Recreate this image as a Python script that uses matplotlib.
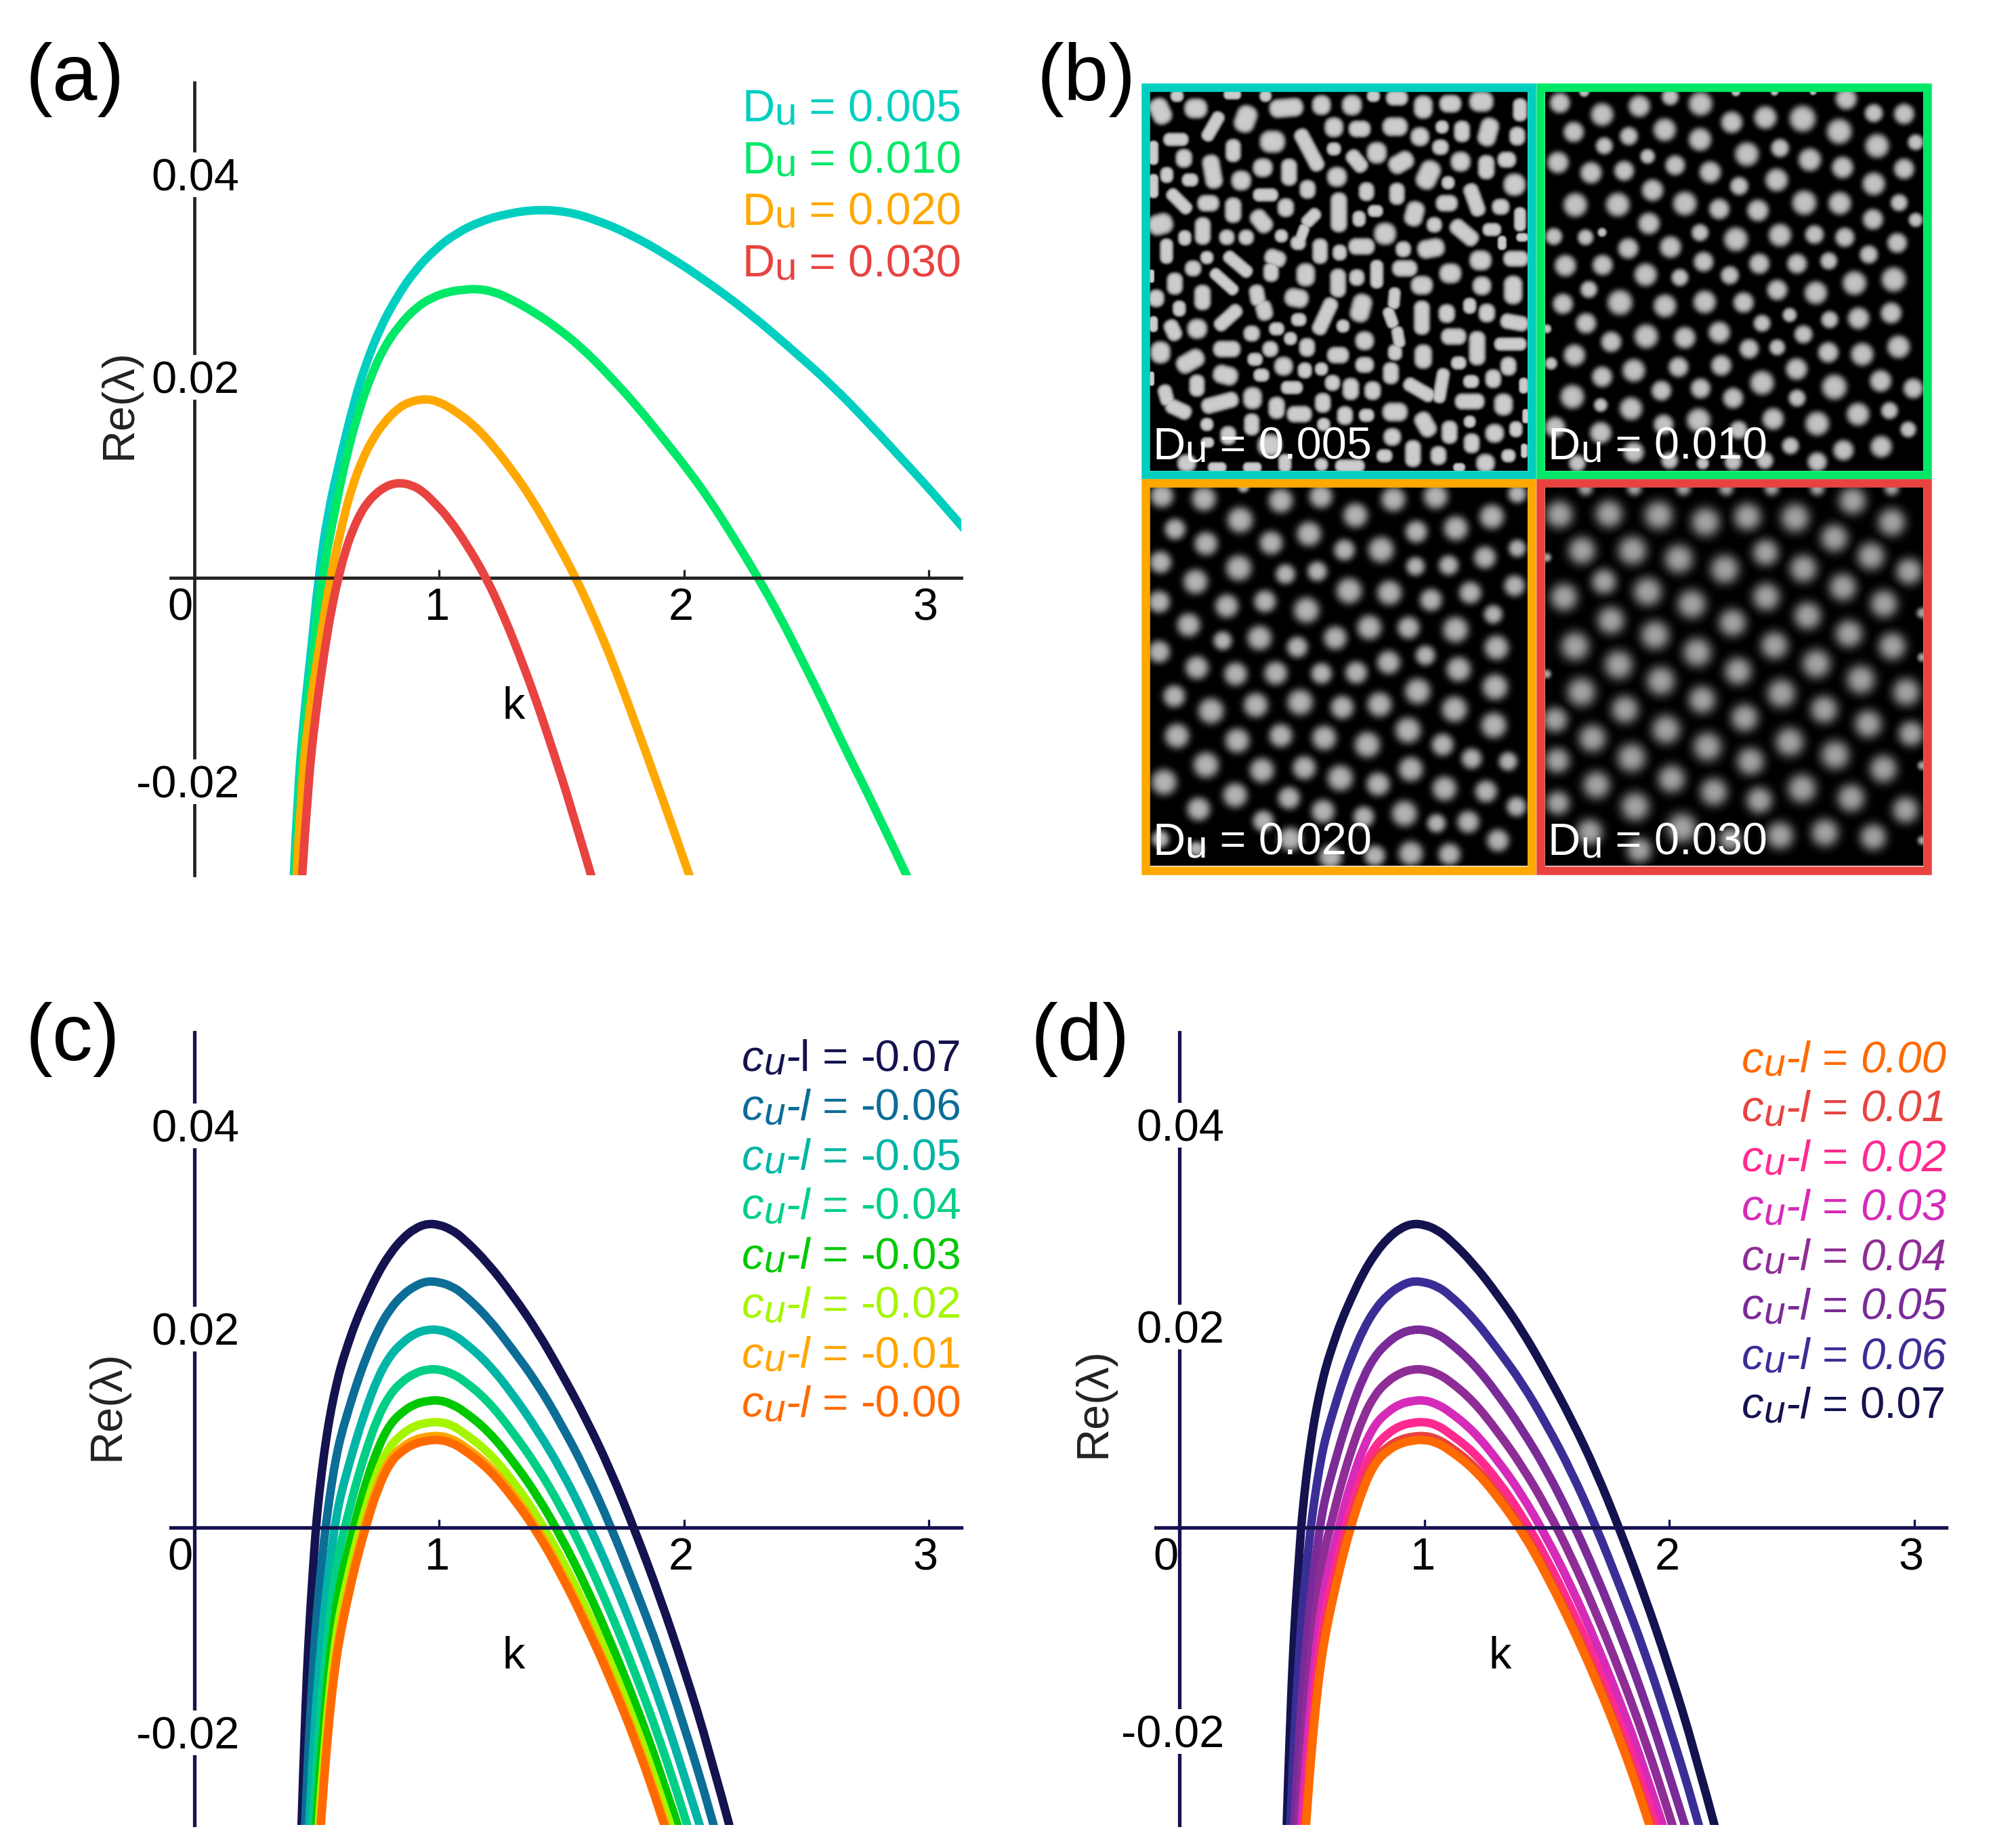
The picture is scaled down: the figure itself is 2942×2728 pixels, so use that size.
import numpy as np
import matplotlib
matplotlib.use("Agg")
import matplotlib.pyplot as plt
from matplotlib.patches import PathPatch, Rectangle
from matplotlib.path import Path

plt.rcParams["font.family"] = ["Liberation Sans", "DejaVu Sans"]

W, H = 2942, 2728

# panel (a) curves
k_du005 = [.407, .423, .447, .479, .507, .544, .60, .65, .697, .76, .828, .90, .984, 1.07, 1.167, 1.28, 1.402,
           1.52, 1.637, 1.78, 1.924, 2.09, 2.264, 2.43, 2.603, 2.76, 2.916, 3.02, 3.16]
re_du005 = [-.03, -.0215, -.01415, -.007, 0, .0064, .0125, .0175, .0214, .0253, .0284, .0310, .0332, .0348, .0360,
            .0368, .0372, .0370, .0362, .0347, .0327, .0300, .0268, .0233, .0195, .0155, .0113, .0085, .0045]
k_du010 = [.413, .43, .456, .489, .521, .571, .62, .671, .72, .775, .84, .906, .97, 1.037, 1.10, 1.154, 1.225, 1.298,
           1.39, 1.48, 1.58, 1.689, 1.81, 1.924, 2.02, 2.107, 2.20, 2.303, 2.39, 2.47, 2.56, 2.655, 2.78, 2.92]
re_du010 = [-.03, -.0215, -.01415, -.007, 0, .0064, .0122, .0168, .0203, .0233, .0256, .0273, .0283, .0289, .0291,
            .0292, .0289, .0281, .0268, .0253, .0233, .0206, .0173, .0138, .0108, .0078, .0042, 0, -.0038, -.0077,
            -.0121, -.0171, -.0232, -.0306]
k_du020 = [.418, .437, .466, .510, .555, .613, .645, .68, .725, .775, .83, .880, .945, 1.00, 1.063, 1.14, 1.219, 1.30,
           1.376, 1.47, 1.559, 1.64, 1.715, 1.79, 1.872, 1.95, 2.03]
re_du020 = [-.03, -.0215, -.01415, -.007, 0, .0064, .0092, .0116, .0139, .0157, .0171, .0178, .0181, .0178, .0169,
            .0155, .0134, .0108, .0081, .0041, 0, -.0044, -.0089, -.0139, -.0195, -.0249, -.0306]
k_du030 = [.441, .463, .493, .534, .56, .588, .62, .65, .68, .71, .745, .78, .81, .845, .885, .932, .985, 1.037, 1.11,
           1.193, 1.26, 1.324, 1.39, 1.454, 1.54, 1.63]
re_du030 = [-.03, -.0215, -.01415, -.007, -.0032, 0, .0030, .0050, .0066, .0077, .0086, .0092, .0095, .0096, .0094,
            .0088, .0075, .0061, .0035, 0, -.0036, -.0075, -.0119, -.0166, -.0232, -.0308]

# panels (c) and (d) show the same eight curves, named by |c_u - l|
k_grid = [.43, .44, .45, .46, .47, .48, .49, .50, .52, .54, .56, .58, .60, .63, .66, .70, .75, .80, .85, .90, .95, 1.0,
          1.05, 1.1, 1.2, 1.3, 1.4, 1.5, 1.6, 1.7, 1.8, 1.9, 2.0, 2.1, 2.2]
re_07 = [-.0365, -.0285, -.0213, -.0148, -.0100, -.0060, -.0024, .0010, .0056, .0092, .0121, .0144, .0164, .0187, .0208,
         .0231, .0257, .0277, .0292, .0302, .0307, .0306, .0301, .0292, .0267, .0235, .0199, .0156, .0110, .0058, -.0003,
         -.0069, -.0142, -.0222, -.0314]
re_06 = [-.0392, -.0321, -.0257, -.0207, -.0163, -.0124, -.0088, -.0035, .0008, .0043, .0072, .0094, .0119, .0143, .0171,
         .0200, .0221, .0235, .0244, .0249, .0248, .0244, .0236, .0212, .0180, .0146, .0104, .0057, .0002, -.0060, -.0125,
         -.0200, -.0280, -.0370]
re_05 = [-.0350, -.0297, -.0250, -.0210, -.0171, -.0113, -.0063, -.0023, .0011, .0035, .0062, .0088, .0119, .0152, .0174,
         .0187, .0196, .0200, .0200, .0196, .0188, .0166, .0135, .0099, .0058, .0009, -.0046, -.0107, -.0174, -.0249, -.0329]
re_04 = [-.0371, -.0321, -.0279, -.0239, -.0176, -.0121, -.0076, -.0039, -.0014, .0015, .0044, .0077, .0112, .0135, .0148,
         .0156, .0160, .0160, .0156, .0149, .0128, .0097, .0062, .0020, -.0029, -.0085, -.0146, -.0213, -.0289, -.0369]
re_03 = [-.0376, -.0333, -.0292, -.0225, -.0167, -.0118, -.0079, -.0052, -.0021, .0009, .0045, .0081, .0105, .0117, .0125,
         .0128, .0129, .0125, .0118, .0098, .0068, .0033, -.0010, -.0059, -.0115, -.0176, -.0244, -.0320]
re_02 = [-.0372, -.0330, -.0260, -.0199, -.0148, -.0108, -.0080, -.0047, -.0016, .0020, .0059, .0083, .0095, .0103, .0106,
         .0107, .0104, .0096, .0077, .0048, .0012, -.0031, -.0081, -.0136, -.0197, -.0266, -.0342]
re_01 = [-.0352, -.0281, -.0219, -.0166, -.0126, -.0097, -.0063, -.0031, .0006, .0045, .0070, .0082, .0089, .0092, .0093,
         .0090, .0083, .0064, .0035, 0, -.0044, -.0094, -.0149, -.0210, -.0280, -.0356]
re_00 = [-.0360, -.0288, -.0225, -.0172, -.0132, -.0103, -.0068, -.0036, .0001, .0040, .0066, .0078, .0085, .0088, .0089,
         .0086, .0079, .0060, .0031, -.0004, -.0048, -.0098, -.0153, -.0214, -.0284, -.0362]

curves_c = [(k_grid, re_07), (k_grid[1:], re_06), (k_grid[3:-1], re_05), (k_grid[4:-1], re_04),
            (k_grid[5:-2], re_03), (k_grid[6:-2], re_02), (k_grid[7:-2], re_01), (k_grid[7:-2], re_00)]

du_values = ["0.005", "0.010", "0.020", "0.030"]
du_colors = ["#00cfc0", "#00e868", "#ffa800", "#e84340"]
c_labels = ["-0.07", "-0.06", "-0.05", "-0.04", "-0.03", "-0.02", "-0.01", "-0.00"]
c_colors = ["#14124f", "#0c6d97", "#00b5a5", "#00cf85", "#00c800", "#a6f500", "#ffa500", "#ff6a00"]
d_labels = ["0.00", "0.01", "0.02", "0.03", "0.04", "0.05", "0.06", "0.07"]
d_colors = ["#ff6a00", "#e84340", "#ff2a8f", "#d62ab8", "#8f2d96", "#7a2b98", "#3a2e96", "#14124f"]

# spot pictures of panel (b): centre x, centre y, radius along theta, radius across, theta (deg, y down)
spots_005 = [
    (130, 160, 45, 32, 65), (190, 105, 20, 18, 0), (258, 150, 38, 32, 0), (390, 100, 28, 14, 0), (510, 105, 18, 18, 0),
    (585, 148, 58, 30, -5), (712, 138, 30, 32, 0), (822, 138, 32, 33, 0), (900, 105, 20, 18, 0), (985, 112, 36, 24, 0),
    (1080, 145, 38, 30, 90), (1178, 133, 36, 28, 0), (1290, 125, 40, 33, 0), (1430, 155, 38, 22, 90),
    (320, 215, 55, 20, -60), (438, 188, 46, 34, -70), (757, 218, 30, 32, 0), (850, 224, 36, 26, 0),
    (978, 216, 42, 30, 0), (1148, 217, 20, 20, 0), (1220, 233, 35, 25, 90), (1315, 235, 48, 30, -75),
    (1420, 250, 30, 25, 90), (186, 262, 42, 20, 0), (535, 270, 42, 36, 0), (668, 300, 80, 24, 62), (1068, 252, 30, 30, 0),
    (1142, 290, 26, 24, 0), (757, 296, 22, 20, 0), (912, 310, 35, 32, 90), (393, 302, 38, 24, 90), (105, 310, 40, 14, 90),
    (215, 330, 30, 26, 90), (840, 340, 42, 24, 50), (1000, 345, 44, 30, -30), (1215, 342, 32, 32, 0), (1308, 362, 40, 26, 90),
    (1382, 335, 30, 25, 0), (318, 378, 58, 28, 80), (500, 364, 32, 30, 0), (595, 380, 45, 25, 90), (1098, 390, 50, 34, -65),
    (153, 390, 25, 20, 90), (237, 408, 26, 20, 0), (422, 410, 32, 32, 0), (768, 397, 32, 32, 0), (1170, 418, 20, 20, 0),
    (105, 430, 40, 14, 90), (1410, 425, 36, 36, 0), (875, 450, 30, 24, 90), (985, 458, 36, 24, 90), (662, 442, 30, 25, 90),
    (510, 462, 42, 20, 0), (198, 485, 52, 20, 45), (303, 492, 36, 26, 0), (1165, 492, 36, 26, 0), (1265, 480, 58, 24, 70),
    (393, 517, 42, 26, 90), (583, 508, 30, 26, 90), (775, 525, 68, 26, 90), (1360, 505, 28, 25, 0), (907, 520, 24, 18, 0),
    (848, 548, 25, 20, 90), (1048, 530, 42, 30, -75), (1430, 550, 40, 18, 90), (495, 557, 42, 28, 50), (130, 568, 42, 34, -15),
    (283, 592, 46, 25, 90), (1120, 570, 24, 24, 0), (1228, 598, 55, 26, 40), (1328, 587, 30, 20, 0), (675, 545, 36, 20, -45),
    (640, 610, 42, 16, -70), (628, 635, 24, 22, 0), (218, 617, 24, 20, 90), (370, 615, 24, 24, 0), (440, 615, 24, 24, 0),
    (567, 610, 20, 20, 0), (942, 602, 36, 36, 0), (1438, 615, 18, 12, 0), (152, 665, 42, 20, 90), (707, 665, 42, 24, 90),
    (778, 670, 25, 22, 90), (857, 648, 44, 26, 0), (1108, 655, 46, 30, -10), (1008, 658, 24, 25, 0), (1365, 635, 22, 12, 90),
    (298, 688, 20, 20, 0), (248, 727, 26, 25, 0), (410, 712, 58, 20, 40), (545, 690, 36, 26, 20), (530, 740, 32, 24, 90),
    (1287, 698, 36, 32, 0), (1415, 692, 42, 25, 0), (655, 750, 38, 30, 90), (912, 748, 48, 20, 90), (1013, 727, 42, 26, 0),
    (1178, 745, 36, 32, 0), (98, 755, 20, 6, 90), (182, 782, 36, 25, 90), (360, 775, 58, 18, 42), (772, 780, 48, 25, 90),
    (840, 760, 26, 24, 90), (1075, 788, 36, 30, 0), (1292, 790, 30, 30, 0), (1405, 805, 48, 30, 90), (115, 835, 28, 25, 90),
    (282, 832, 42, 26, 90), (622, 834, 40, 30, 10), (480, 825, 36, 24, 80), (505, 878, 34, 26, 75), (855, 870, 48, 32, -75),
    (975, 835, 36, 18, 95), (962, 905, 36, 18, 70), (990, 975, 36, 18, 80), (978, 1030, 26, 22, 90), (198, 872, 25, 20, 90),
    (1248, 862, 25, 20, 90), (1075, 905, 58, 25, 90), (1165, 890, 30, 26, 90), (1310, 888, 30, 26, 90), (375, 905, 56, 22, -42),
    (725, 900, 68, 24, -65), (630, 912, 24, 20, 0), (1410, 922, 48, 24, 10), (105, 928, 25, 12, 90), (175, 950, 36, 24, 65),
    (263, 945, 32, 32, 0), (460, 962, 26, 25, 0), (550, 945, 24, 20, 0), (790, 935, 20, 20, 0), (600, 980, 20, 20, 0),
    (868, 988, 30, 30, 0), (1190, 973, 42, 26, 0), (1275, 1015, 58, 26, 90), (1395, 1000, 55, 20, 0), (370, 1018, 46, 26, 0),
    (130, 1030, 36, 32, 90), (660, 1012, 30, 25, 90), (527, 1018, 25, 25, 0), (238, 1062, 50, 30, -30), (772, 1040, 36, 26, 0),
    (1080, 1045, 40, 28, 90), (472, 1055, 24, 20, 0), (868, 1075, 30, 25, 0), (1208, 1068, 24, 20, 0), (575, 1080, 30, 30, 0),
    (1388, 1080, 30, 25, 90), (712, 1090, 20, 20, 0), (652, 1095, 25, 22, 90), (365, 1112, 42, 30, 15), (963, 1105, 36, 25, 90),
    (495, 1112, 25, 20, 0), (98, 1125, 22, 6, 90), (752, 1140, 24, 25, 0), (1253, 1135, 25, 20, 0), (1333, 1125, 30, 25, 90),
    (1443, 1150, 25, 13, 90), (262, 1150, 36, 24, 90), (605, 1157, 36, 20, 0), (818, 1162, 36, 26, 90), (897, 1168, 30, 26, 90),
    (1065, 1165, 58, 22, 30), (1145, 1150, 60, 20, -80), (150, 1185, 36, 22, 75), (195, 1235, 46, 24, 25), (345, 1212, 65, 25, -15),
    (463, 1195, 36, 30, 90), (717, 1212, 32, 25, 90), (1248, 1207, 50, 25, 0), (1370, 1218, 36, 30, 90), (550, 1230, 36, 26, 90),
    (632, 1253, 42, 26, 0), (797, 1258, 30, 25, 90), (875, 1257, 24, 20, 0), (978, 1245, 42, 30, 0), (1450, 1260, 22, 8, 90),
    (298, 1290, 20, 20, 0), (460, 1290, 36, 24, 90), (1088, 1290, 44, 28, 60), (720, 1290, 20, 20, 0), (1248, 1280, 18, 18, 0),
    (1175, 1318, 38, 25, 90), (1338, 1322, 30, 30, 0), (1415, 1307, 25, 20, 90), (968, 1335, 28, 28, 0), (375, 1330, 30, 25, 90),
    (225, 1430, 30, 28, 0), (300, 1355, 20, 15, 0), (525, 1365, 40, 36, 0), (1043, 1395, 45, 25, 90), (1135, 1402, 30, 25, 90),
    (1255, 1358, 32, 25, 90), (940, 1403, 25, 20, 0), (1388, 1403, 22, 20, 0), (1305, 1430, 30, 30, 0), (1445, 1385, 22, 8, 90),
    (815, 1440, 50, 20, 0), (712, 1435, 20, 20, 0), (580, 1430, 30, 20, 90), (462, 1445, 30, 15, 0), (335, 1445, 30, 15, 0),
    (1210, 1445, 18, 12, 0),
]
spots_010 = [
    (102, 130, 36), (255, 172, 40), (390, 142, 38), (502, 108, 30), (612, 133, 42), (725, 200, 38), (847, 183, 40), (982, 187, 46),
    (1140, 115, 38), (1240, 167, 32), (1350, 170, 36), (152, 235, 36), (352, 250, 32), (482, 227, 40), (610, 262, 40), (263, 285, 30),
    (1115, 233, 44), (1252, 285, 42), (1392, 272, 28), (95, 345, 38), (215, 382, 38), (335, 375, 35), (420, 323, 26), (520, 355, 35),
    (647, 380, 38), (780, 315, 42), (900, 293, 32), (1008, 335, 40), (1127, 363, 38), (1350, 368, 36), (438, 445, 38), (752, 430, 32),
    (888, 408, 40), (1240, 422, 40), (158, 498, 42), (312, 497, 42), (555, 493, 42), (680, 513, 36), (820, 518, 38), (988, 490, 43),
    (1117, 492, 40), (1332, 490, 30), (1237, 550, 36), (1392, 552, 25), (425, 565, 38), (610, 598, 30), (740, 622, 42), (900, 607, 40),
    (1025, 605, 33), (1135, 615, 34), (80, 612, 30), (195, 615, 28), (255, 597, 16), (350, 655, 36), (503, 650, 38), (1325, 635, 35),
    (1222, 677, 32), (122, 717, 38), (257, 715, 36), (623, 703, 35), (825, 710, 36), (962, 710, 35), (1077, 700, 30), (413, 750, 40),
    (537, 760, 30), (718, 752, 32), (1170, 780, 42), (1312, 767, 43), (207, 803, 30), (890, 805, 36), (1030, 815, 40), (113, 855, 36),
    (320, 850, 44), (483, 862, 40), (627, 848, 40), (768, 850, 36), (935, 895, 25), (197, 925, 36), (1080, 912, 30), (1185, 907, 38),
    (1303, 888, 37), (835, 925, 30), (55, 945, 16), (415, 972, 42), (555, 977, 38), (680, 958, 38), (985, 965, 32), (288, 992, 36),
    (155, 1040, 38), (788, 1017, 34), (890, 1012, 28), (1075, 1030, 36), (1198, 1037, 40), (1330, 1010, 40), (70, 1070, 22),
    (532, 1083, 35), (687, 1077, 36), (370, 1095, 40), (960, 1090, 38), (255, 1118, 36), (835, 1140, 42), (1097, 1155, 44),
    (1265, 1133, 38), (470, 1168, 35), (612, 1160, 35), (147, 1190, 42), (730, 1195, 36), (962, 1195, 30), (1383, 1160, 35),
    (250, 1220, 24), (360, 1233, 40), (875, 1270, 38), (1183, 1253, 40), (1297, 1240, 30), (605, 1275, 42), (1035, 1287, 42),
    (478, 1290, 35), (85, 1300, 36), (250, 1320, 38), (750, 1310, 32), (1365, 1308, 28), (938, 1367, 30), (1130, 1383, 36),
    (1267, 1370, 38), (370, 1390, 36), (845, 1420, 30), (1035, 1425, 34), (165, 1430, 30), (500, 1420, 30), (620, 1430, 22),
    (730, 1425, 30), (190, 90, 18), (740, 90, 16), (880, 90, 14), (1020, 90, 12),
]
spots_020 = [
    (135, 108, 40), (287, 118, 42), (565, 125, 42), (710, 110, 40), (972, 120, 42), (1125, 110, 42), (1420, 100, 32), (430, 75, 20),
    (418, 195, 44), (835, 178, 42), (1328, 183, 42), (183, 228, 36), (1055, 237, 38), (1198, 225, 42), (667, 245, 42), (295, 280, 40),
    (530, 277, 40), (795, 303, 36), (928, 302, 44), (1420, 297, 30), (130, 347, 38), (1303, 330, 38), (1052, 362, 32), (1172, 358, 34),
    (413, 368, 44), (582, 390, 34), (697, 380, 34), (257, 417, 42), (812, 450, 44), (958, 457, 42), (1410, 432, 36), (1250, 457, 38),
    (125, 490, 38), (508, 488, 38), (370, 505, 40), (1108, 483, 38), (658, 520, 44), (1333, 535, 32), (232, 573, 40), (885, 582, 42),
    (1027, 583, 38), (1197, 590, 44), (488, 620, 42), (762, 620, 40), (355, 630, 32), (625, 653, 36), (1345, 655, 42), (125, 670, 38),
    (1088, 683, 34), (955, 708, 40), (262, 727, 40), (402, 750, 40), (547, 747, 40), (712, 748, 36), (838, 745, 38), (1208, 733, 42),
    (180, 830, 38), (1060, 812, 44), (1340, 797, 44), (635, 852, 44), (475, 862, 42), (787, 870, 40), (922, 860, 42), (313, 883, 44),
    (1193, 877, 44), (190, 973, 42), (1025, 953, 44), (1335, 935, 44), (565, 972, 40), (722, 980, 42), (408, 990, 42), (878, 1005, 44),
    (1150, 1005, 38), (1255, 1055, 35), (1387, 1065, 32), (295, 1078, 44), (497, 1097, 42), (650, 1088, 40), (1035, 1093, 42),
    (780, 1125, 44), (143, 1140, 44), (917, 1147, 40), (1157, 1163, 42), (1307, 1173, 38), (400, 1187, 42), (595, 1197, 38),
    (268, 1237, 40), (1012, 1253, 44), (1417, 1228, 34), (718, 1245, 40), (865, 1265, 36), (1243, 1283, 38), (1128, 1288, 32),
    (502, 1280, 36), (130, 1345, 30), (1350, 1350, 38), (600, 1345, 40), (1035, 1397, 42), (1175, 1400, 38), (905, 1405, 36),
    (745, 1410, 40), (260, 1380, 25),
]
spots_030 = [
    (100, 175, 46), (280, 173, 46), (460, 178, 48), (630, 202, 48), (782, 183, 46), (955, 187, 48), (1163, 125, 46), (1305, 203, 46),
    (1097, 260, 46), (182, 305, 46), (365, 305, 48), (533, 335, 48), (848, 312, 44), (700, 372, 48), (985, 370, 46), (1230, 325, 46),
    (1368, 380, 44), (262, 417, 42), (117, 473, 46), (420, 453, 48), (580, 498, 48), (850, 472, 46), (1128, 437, 46), (1277, 497, 46),
    (287, 557, 46), (728, 565, 46), (1000, 540, 46), (447, 610, 48), (1150, 605, 46), (157, 650, 48), (600, 672, 48), (880, 647, 46),
    (1307, 650, 46), (315, 717, 48), (1032, 713, 48), (748, 740, 46), (468, 775, 48), (1193, 770, 48), (180, 815, 48), (905, 820, 48),
    (1358, 815, 46), (618, 843, 46), (338, 878, 46), (1060, 878, 46), (772, 908, 46), (85, 915, 42), (487, 950, 48), (1220, 930, 46),
    (220, 982, 46), (1375, 965, 42), (935, 995, 48), (637, 1012, 48), (362, 1052, 48), (1100, 1042, 48), (93, 1062, 42), (793, 1065, 46),
    (1275, 1092, 46), (235, 1150, 46), (507, 1128, 46), (980, 1163, 48), (660, 1175, 46), (1158, 1197, 46), (825, 1205, 44), (95, 1215, 40),
    (375, 1228, 48), (1355, 1240, 44), (545, 1305, 50), (210, 1320, 44), (1063, 1322, 46), (900, 1332, 46), (1238, 1338, 44),
    (720, 1345, 38), (390, 1385, 42), (195, 80, 25), (372, 80, 25), (550, 80, 25), (705, 80, 25), (870, 80, 25), (1035, 80, 25), (1305, 80, 25),
    (1415, 530, 18), (55, 330, 15), (55, 750, 15), (1415, 690, 15), (1415, 1080, 15), (1415, 1350, 15),
]


def spot_field(spots, x0, x1, y0, y1, peak, edge, squareness, grow):
    xs, ys = np.meshgrid(np.linspace(x0, x1, 560), np.linspace(y0, y1, 560))
    field = np.zeros_like(xs)
    for s in spots:
        x, y, a = s[:3]
        b = s[3] if len(s) > 3 else a
        th = s[4] if len(s) > 4 else 0.0
        if a < b:
            a, b, th = b, a, th + 90
        th = np.radians(th)
        dx, dy = xs - x, ys - y
        u = np.abs(dx * np.cos(th) + dy * np.sin(th))
        v = np.abs(-dx * np.sin(th) + dy * np.cos(th))
        # rounded bar: distance from the core segment
        u = np.maximum(u - (a - b), 0)
        d = (u ** squareness + v ** squareness) ** (1 / squareness) / (b * 0.97 + grow)
        field = np.maximum(field, np.exp(-0.69 * d ** edge))
    return peak * field


# arial advance widths, so that runs of different size can be laid end to end
ADV = {"D": .722, "c": .5, "u": .556, "-": .333, "l": .222, " ": .278, "=": .584, ".": .278}


def run_width(s, size):
    return sum(ADV.get(ch, .556) for ch in s) * size * 100 / 72


def put_runs(x, y, runs, color):
    for s, size, style, dy in runs:
        page.text(x, y + dy, s, fontsize=size, style=style, color=color, ha="left", va="baseline")
        x += run_width(s, size)


def du_runs(value):
    return [("D", 48, "normal", 0), ("u", 42, "normal", 4), (" = " + value, 48, "normal", 0)]


def cu_runs(l_style, value, val_style):
    return [("c", 47, "italic", 0), ("u", 41, "italic", 5), ("-", 47, "italic", 0), ("l", 47, l_style, 0),
            (" = ", 47, "normal", 0), (value, 47, val_style, 0)]


def smooth_line(ax, k, re, color, lw, zorder=3):
    # the read points are the control points of a quadratic path, so no corners show on the thick line
    pts = np.column_stack([k, re])
    verts = [pts[0]]
    codes = [Path.MOVETO]
    for i in range(1, len(pts) - 1):
        end = pts[-1] if i == len(pts) - 2 else (pts[i] + pts[i + 1]) / 2
        verts += [pts[i], end]
        codes += [Path.CURVE3, Path.CURVE3]
    ax.add_patch(PathPatch(Path(verts, codes), fill=False, ec=color, lw=lw, capstyle="butt", joinstyle="round",
                           zorder=zorder))


fig = plt.figure(figsize=(W / 100, H / 100), dpi=100)
page = fig.add_axes([0, 0, 1, 1], zorder=10)
page.set_xlim(0, W)
page.set_ylim(H, 0)
page.axis("off")


def curve_axes(x_zero, y_zero, axis_color, axis_lw):
    left, right = x_zero - 34.7, x_zero + 1132.3
    top, bottom = y_zero - 731, y_zero + 439
    ax = fig.add_axes([left / W, 1 - bottom / H, (right - left) / W, (bottom - top) / H])
    ax.set_xlim(-.096, 3.132)
    ax.set_ylim(-.03, .05)
    ax.patch.set_visible(False)
    for name in ["top", "right"]:
        ax.spines[name].set_visible(False)
    for name in ["left", "bottom"]:
        ax.spines[name].set_position("zero")
        ax.spines[name].set_linewidth(axis_lw)
        ax.spines[name].set_color(axis_color)
        ax.spines[name].set_zorder(3.5)
    ax.set_xticks([1, 2, 3])
    ax.set_yticks([])
    ax.tick_params(axis="x", direction="in", length=9, width=2.4, color=axis_color, labelbottom=False)
    return ax


def decorate(x_zero, y_zero, y_centers, xtick_px, k_x, lab_x, lab_y):
    # tick labels sit on a white patch that breaks the vertical axis
    for label, yc in zip(["0.04", "0.02", "-0.02"], y_centers):
        page.add_patch(Rectangle((x_zero - 15, yc - 33), 30, 66, fc="white", ec="none"))
        page.text(x_zero + 66.5, yc + 23.5, label, fontsize=48, ha="right", va="baseline", color="black")
    for label, xc in zip(["0", "1", "2", "3"], xtick_px):
        page.text(xc, y_zero + 62, label, fontsize=48, ha="center", va="baseline", color="black")
    page.text(k_x, y_zero + 208, "k", fontsize=48, ha="center", va="baseline", color="black")
    page.text(lab_x, lab_y, "Re(λ)", fontsize=48, rotation=90, ha="center", va="center", color="#222222")


# (a)
ax_a = curve_axes(286.7, 853, "#222222", 3.4)
smooth_line(ax_a, k_du005, re_du005, du_colors[0], 9)
smooth_line(ax_a, k_du010, re_du010, du_colors[1], 9)
smooth_line(ax_a, k_du020, re_du020, du_colors[2], 9)
smooth_line(ax_a, k_du030, re_du030, du_colors[3], 9, zorder=4)
decorate(286.7, 853, [258, 557, 1153.5], [266, 645, 1005, 1366], 758, 176.5, 597)
for i, (val, col) in enumerate(zip(du_values, du_colors)):
    runs = du_runs(val)
    width = sum(run_width(r[0], r[1]) for r in runs)
    put_runs(1418.6 - width, 179 + 76.5 * i, runs, col)

# (c)
ax_c = curve_axes(286.7, 2255, "#14124f", 3.8)
for (k, re), col in zip(curves_c, c_colors):
    smooth_line(ax_c, k, re, col, 9)
decorate(286.7, 2255, [1662, 1962, 2557.5], [266, 645, 1005, 1366], 758, 158.6, 2075)
for i, (val, col) in enumerate(zip(c_labels, c_colors)):
    put_runs(1095, 1581 + 73 * i, cu_runs("normal" if i == 0 else "italic", val, "normal"), col)

# (d)
ax_d = curve_axes(1741, 2255, "#14124f", 3.8)
for (k, re), col in zip(curves_c, d_colors[::-1]):
    smooth_line(ax_d, k, re, col, 9)
decorate(1741, 2255, [1661, 1959, 2556], [1720.6, 2100, 2461, 2821], 2214, 1615, 2071)
for i, (val, col) in enumerate(zip(d_labels, d_colors)):
    put_runs(2571, 1583 + 73 * i, cu_runs("italic", val, "normal" if i == 7 else "italic"), col)

# (b) four framed pictures
frames = [
    (1684.5, 122.5, 2267, 707, du_colors[0], spots_005, 92, 1456, 90, 1456, 0.80, 6.0, 2.2, 4),
    (2268, 122.5, 2851, 707, du_colors[1], spots_010, 50, 1418, 90, 1456, 0.76, 4.5, 2, 0),
    (1684.5, 707, 2267, 1291, du_colors[2], spots_020, 92, 1456, 75, 1440, 0.70, 3.4, 2, 0),
    (2268, 707, 2851, 1291, du_colors[3], spots_030, 50, 1418, 75, 1440, 0.63, 2.8, 2, 0),
]
for (x0, y0, x1, y1, col, spots, sx0, sx1, sy0, sy1, peak, edge, square, grow), val in zip(frames, du_values):
    t = 12.5
    ax_im = fig.add_axes([(x0 + t) / W, 1 - (y1 - t) / H, (x1 - x0 - 2 * t) / W, (y1 - y0 - 2 * t) / H])
    ax_im.imshow(spot_field(spots, sx0, sx1, sy0, sy1, peak, edge, square, grow), cmap="gray", vmin=0, vmax=1,
                 aspect="auto", interpolation="bilinear")
    ax_im.axis("off")
    page.add_patch(Rectangle((x0 + t / 2, y0 + t / 2), x1 - x0 - t, y1 - y0 - t, fill=False, ec=col, lw=t * .72,
                             joinstyle="miter"))
    put_runs(x0 + 17, y1 - 29.5, du_runs(val), "white")

# panel letters
for letter, x, y in [("(a)", 38, 148), ("(b)", 1531, 148), ("(c)", 38, 1565), ("(d)", 1522, 1565)]:
    page.text(x, y, letter, fontsize=86, ha="left", va="baseline", color="black")

fig.savefig("out.png", dpi=100)
